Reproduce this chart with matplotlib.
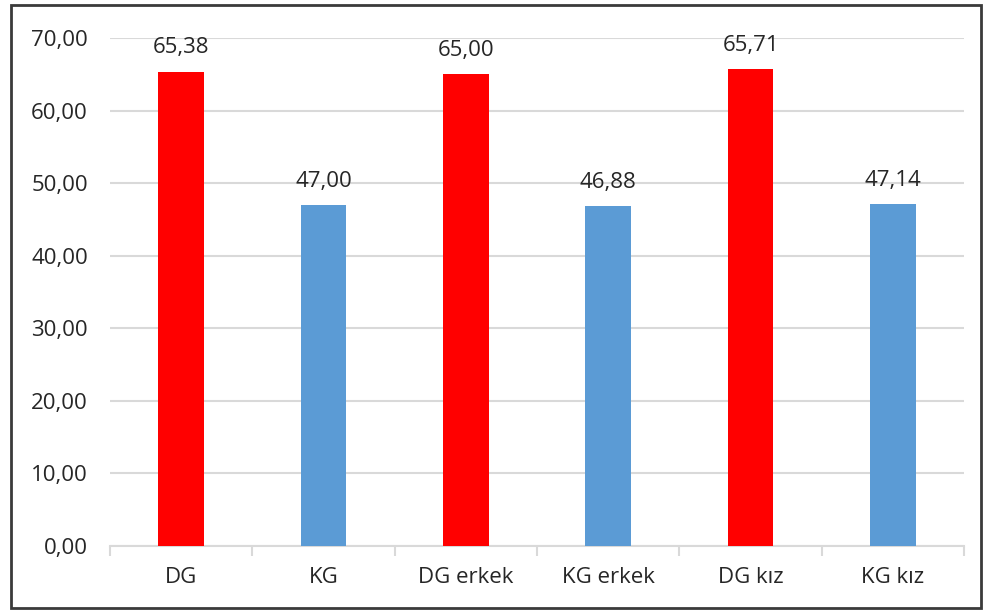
import matplotlib.pyplot as plt
from matplotlib.patches import Rectangle
from matplotlib.ticker import FuncFormatter
import numpy as np

plt.rcParams['font.family'] = ['Open Sans', 'DejaVu Sans']

categories = ['DG', 'KG', 'DG erkek', 'KG erkek', 'DG kız', 'KG kız']
values = [65.38, 47.00, 65.00, 46.88, 65.71, 47.14]
colors = ['#ff0000', '#5b9bd5', '#ff0000', '#5b9bd5', '#ff0000', '#5b9bd5']

def virgul(v, pos=None):
  return '{:.2f}'.format(v).replace('.', ',')

fig = plt.figure(figsize=(9.84, 6.12), dpi=100)
ax = fig.add_axes([0.1118, 0.1078, 0.868, 0.8301])

x = np.arange(len(categories))
ax.bar(x, values, width=0.32, color=colors, zorder=3)

for xi, v in zip(x, values):
  ax.annotate(virgul(v), (xi, v), xytext=(0, 13), textcoords='offset points',
              ha='center', va='baseline', fontsize=16, color='#262626')

ax.set_xlim(-0.5, len(categories) - 0.5)
ax.set_ylim(0, 70)
ax.set_yticks(np.arange(0, 71, 10))
ax.yaxis.set_major_formatter(FuncFormatter(virgul))
ax.grid(axis='y', color='#d9d9d9', linewidth=1.5, zorder=0)

# kategori sinirlarinda tick
ax.set_xticks(x)
ax.set_xticklabels(categories)
ax.set_xticks(np.arange(-0.5, len(categories)), minor=True)
ax.tick_params(axis='x', which='major', length=0, pad=15, labelsize=16, labelcolor='#262626')
ax.tick_params(axis='x', which='minor', length=7, width=1.5, color='#d9d9d9')
ax.tick_params(axis='y', length=0, pad=16, labelsize=16, labelcolor='#262626')

for s in ['top', 'right', 'left']:
  ax.spines[s].set_visible(False)
ax.spines['bottom'].set_color('#d9d9d9')
ax.spines['bottom'].set_linewidth(1.5)

# cerceve
fig.patches.append(Rectangle((11 / 984, 4 / 612), 970 / 984, 603 / 612,
                             transform=fig.transFigure, fill=False,
                             edgecolor='#3a3a3a', linewidth=2))

plt.savefig('out.png', dpi=100)
